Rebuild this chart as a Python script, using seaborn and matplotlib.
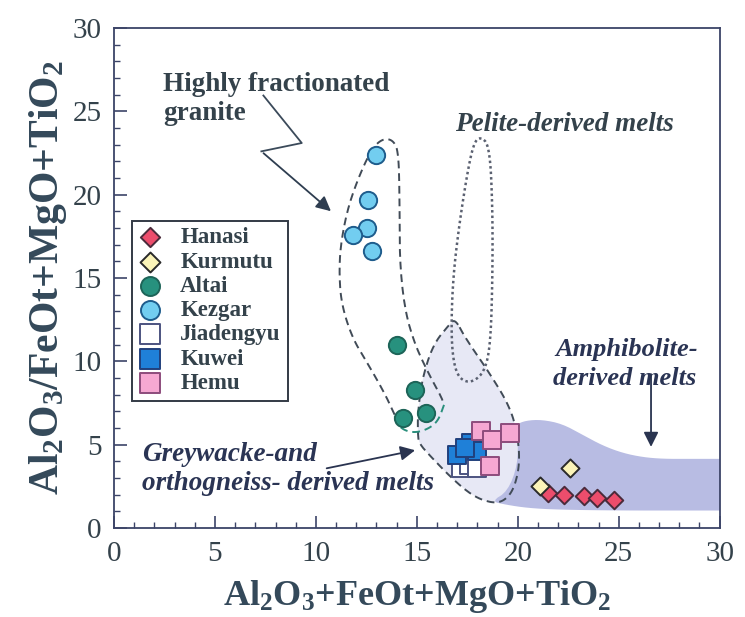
import numpy as np
import matplotlib
matplotlib.use("Agg")
import matplotlib.pyplot as plt
import seaborn as sns

# sample groups (x = Al2O3+FeOt+MgO+TiO2, y = Al2O3/FeOt+MgO+TiO2)
hanasi_x = [21.5, 22.3, 23.3, 23.9, 24.75]
hanasi_y = [2.1, 2.0, 1.9, 1.8, 1.7]
kurmutu_x = [21.1, 22.6]
kurmutu_y = [2.5, 3.6]
altai_x = [14.0, 14.9, 14.3, 15.45]
altai_y = [11.0, 8.3, 6.6, 6.9]
kezgar_x = [13.0, 12.6, 12.55, 11.85, 12.8]
kezgar_y = [22.4, 19.7, 18.0, 17.6, 16.6]
jiadengyu_x = [17.2, 17.6, 18.0]
jiadengyu_y = [3.6, 3.8, 3.6]
kuwei_x = [17.0, 17.7, 18.0, 17.4]
kuwei_y = [4.4, 5.1, 4.6, 4.8]
hemu_x = [18.2, 18.7, 19.6, 18.6]
hemu_y = [5.8, 5.3, 5.7, 3.7]

# field outlines
granite_x = [13.9, 13.4, 12.6, 11.8, 11.25, 11.15, 11.25, 11.6, 12.2, 12.8, 13.3, 13.8, 14.1, 14.15, 14.15, 14.4, 14.9, 15.65, 16.2, 16.35]
granite_y = [6.8, 8.1, 9.8, 11.4, 13.5, 15.5, 17.2, 19.3, 21.3, 22.8, 23.35, 23.3, 22.6, 19.3, 16.0, 13.1, 11.0, 9.1, 7.9, 7.4]
ring_x = [13.9, 14.15, 14.8, 15.5, 16.05, 16.35]
ring_y = [6.7, 6.0, 5.7, 5.9, 6.4, 7.4]
grey_x = [16.9, 17.4, 18.6, 19.6, 20.0, 20.1, 19.8, 19.3, 18.7, 17.8, 16.8, 15.6, 15.1, 15.05, 15.05, 15.25, 15.8, 16.6]
grey_y = [12.55, 11.4, 9.3, 7.3, 5.6, 3.8, 2.3, 1.6, 1.5, 1.9, 2.9, 4.4, 5.1, 5.7, 6.9, 8.9, 11.0, 12.2]
pelite_x = [18.1, 18.6, 18.75, 18.75, 18.65, 18.35, 17.7, 17.1, 16.8, 16.7, 16.8, 17.1, 17.5, 17.8]
pelite_y = [23.5, 23.0, 19.3, 15.1, 11.0, 9.35, 8.7, 8.95, 10.0, 12.0, 15.1, 18.2, 21.3, 23.0]
amph_x = [19.9, 20.4, 21.2, 22.2, 23.2, 24.2, 25.2, 26.2, 27.2, 28.5, 31.0, 31.0, 28.5, 25.0, 22.0, 20.5, 19.4, 18.7, 19.5, 20.0, 20.0]
amph_y = [6.2, 6.45, 6.5, 6.25, 5.6, 4.95, 4.5, 4.25, 4.15, 4.15, 4.15, 1.05, 1.05, 1.05, 1.1, 1.2, 1.4, 1.6, 2.2, 3.8, 5.6]

plt.rcParams["mathtext.fontset"] = "custom"
plt.rcParams["mathtext.bf"] = "Liberation Serif:bold"
plt.rcParams["mathtext.rm"] = "Liberation Serif"
SERIF = "Liberation Serif"
DARK = "#34424b"
NAVY = "#2a3454"


def smooth(xs, ys, closed=True, n=3):
    # chaikin corner cutting, only for drawing the field outlines
    pts = np.column_stack([xs, ys])
    for _ in range(n):
        if closed:
            nxt = np.roll(pts, -1, axis=0)
            q = 0.75 * pts + 0.25 * nxt
            r = 0.25 * pts + 0.75 * nxt
            pts = np.empty((2 * len(q), 2))
            pts[0::2], pts[1::2] = q, r
        else:
            a, b = pts[:-1], pts[1:]
            q = 0.75 * a + 0.25 * b
            r = 0.25 * a + 0.75 * b
            mid = np.empty((2 * len(q), 2))
            mid[0::2], mid[1::2] = q, r
            pts = np.vstack([pts[:1], mid, pts[-1:]])
    if closed:
        pts = np.vstack([pts, pts[:1]])
    return pts[:, 0], pts[:, 1]


fig = plt.figure(figsize=(7.45, 6.17), dpi=100)
ax = fig.add_axes([0.153, 0.1442, 0.813, 0.8104])

# fields
gx, gy = smooth(grey_x, grey_y)
ax.fill(gx, gy, color="#e7e8f5", lw=0, zorder=1)
axx, ayy = smooth(amph_x, amph_y, n=2)
ax.fill(axx, ayy, color="#b8bce3", lw=0, zorder=1.2)
ax.plot(gx, gy, ls=(0, (4, 2.5)), color="#414b57", lw=1.4, zorder=2)
px, py = smooth(pelite_x, pelite_y)
ax.plot(px, py, ls=(0, (1, 1.2)), color="#5a6070", lw=1.8, zorder=2)
hx, hy = smooth(granite_x, granite_y, closed=False)
ax.plot(hx, hy, ls=(0, (4, 2.5)), color="#414b57", lw=1.4, zorder=2)
rx, ry = smooth(ring_x, ring_y, closed=False)
ax.plot(rx, ry, ls=(0, (4, 2.5)), color="#2a8f7c", lw=1.4, zorder=2)

groups = [
    ("Hanasi", hanasi_x, hanasi_y, "D", "#ec4d6c", "#4a2a3a", 80),
    ("Kurmutu", kurmutu_x, kurmutu_y, "D", "#fbf4b8", "#2a2a2a", 85),
    ("Altai", altai_x, altai_y, "o", "#27917e", "#1d6458", 155),
    ("Kezgar", kezgar_x, kezgar_y, "o", "#72cdf0", "#1e5c8c", 155),
    ("Jiadengyu", jiadengyu_x, jiadengyu_y, "s", "#ffffff", "#4c5380", 165),
    ("Kuwei", kuwei_x, kuwei_y, "s", "#1f80d8", "#21407c", 165),
    ("Hemu", hemu_x, hemu_y, "s", "#f6a8d2", "#8d4c7c", 165),
]
for name, xs, ys, mk, fc, ec, s in groups:
    sns.scatterplot(x=xs, y=ys, marker=mk, color=fc, edgecolor=ec, linewidth=1.4,
                    s=s, label=name, ax=ax, zorder=3)

ax.set_xlim(0, 30)
ax.set_ylim(0, 30)
ax.set_xticks(range(0, 31, 5))
ax.set_yticks(range(0, 31, 5))
ax.set_xticks(range(0, 31), minor=True)
ax.set_yticks(range(0, 31), minor=True)
ax.tick_params(which="major", direction="in", length=9, width=1.2, color="#3c4468",
               labelsize=21, labelcolor=DARK, pad=9)
ax.tick_params(which="minor", direction="in", length=4, width=1.0, color="#3c4468")
for lab in ax.get_xticklabels() + ax.get_yticklabels():
    lab.set_fontfamily(SERIF)
for sp in ax.spines.values():
    sp.set_color("#3c4468")
    sp.set_linewidth(1.3)

ax.set_xlabel(r"$\mathbf{Al_2O_3{+}FeOt{+}MgO{+}TiO_2}$", fontsize=26, color="#34495a", labelpad=8)
ax.set_ylabel(r"$\mathbf{Al_2O_3/FeOt{+}MgO{+}TiO_2}$", fontsize=30, color="#34495a", labelpad=2)

leg = ax.legend(loc="upper left", bbox_to_anchor=(0.03, 0.615), frameon=True, fancybox=False,
                framealpha=1, edgecolor="#333a45", borderpad=0.3, labelspacing=0.14,
                handletextpad=0.8, handlelength=1.0, borderaxespad=0, markerscale=1.1,
                prop={"family": SERIF, "weight": "bold", "size": 16.5})
leg.get_frame().set_linewidth(1.4)
for t in leg.get_texts():
    t.set_color(DARK)

# annotations
tb = {"family": SERIF, "weight": "bold"}
ax.text(2.45, 26.6, "Highly fractionated", fontsize=19.5, color=DARK, va="center", **tb)
ax.text(2.45, 24.9, "granite", fontsize=19.5, color=DARK, va="center", **tb)
ax.plot([7.4, 9.3, 7.3], [25.95, 23.1, 22.6], color="#3b4a5a", lw=1.3, zorder=2)
ax.annotate("", xy=(10.85, 18.9), xytext=(7.3, 22.6),
            arrowprops=dict(arrowstyle="-|>", color="#2e3d50", lw=1.3, mutation_scale=22))

ti = {"family": SERIF, "weight": "bold", "style": "italic"}
ax.text(16.9, 24.2, "Pelite-derived melts", fontsize=19.5, color=DARK, va="center", **ti)
ax.text(21.85, 10.7, "Amphibolite-", fontsize=19, color=NAVY, va="center", **ti)
ax.text(21.75, 9.0, "derived melts", fontsize=19, color=NAVY, va="center", **ti)
ax.annotate("", xy=(26.6, 4.7), xytext=(26.6, 9.4),
            arrowprops=dict(arrowstyle="-|>", color="#2a3450", lw=1.3, mutation_scale=22))
ax.text(1.4, 4.4, "Greywacke-and", fontsize=19.5, color=NAVY, va="center", **ti)
ax.text(1.4, 2.7, "orthogneiss- derived melts", fontsize=19.5, color=NAVY, va="center", **ti)
ax.annotate("", xy=(15.05, 4.7), xytext=(10.4, 3.55),
            arrowprops=dict(arrowstyle="-|>", color="#2a3450", lw=1.3, mutation_scale=22))

fig.savefig("out.png", dpi=100, facecolor="white")
